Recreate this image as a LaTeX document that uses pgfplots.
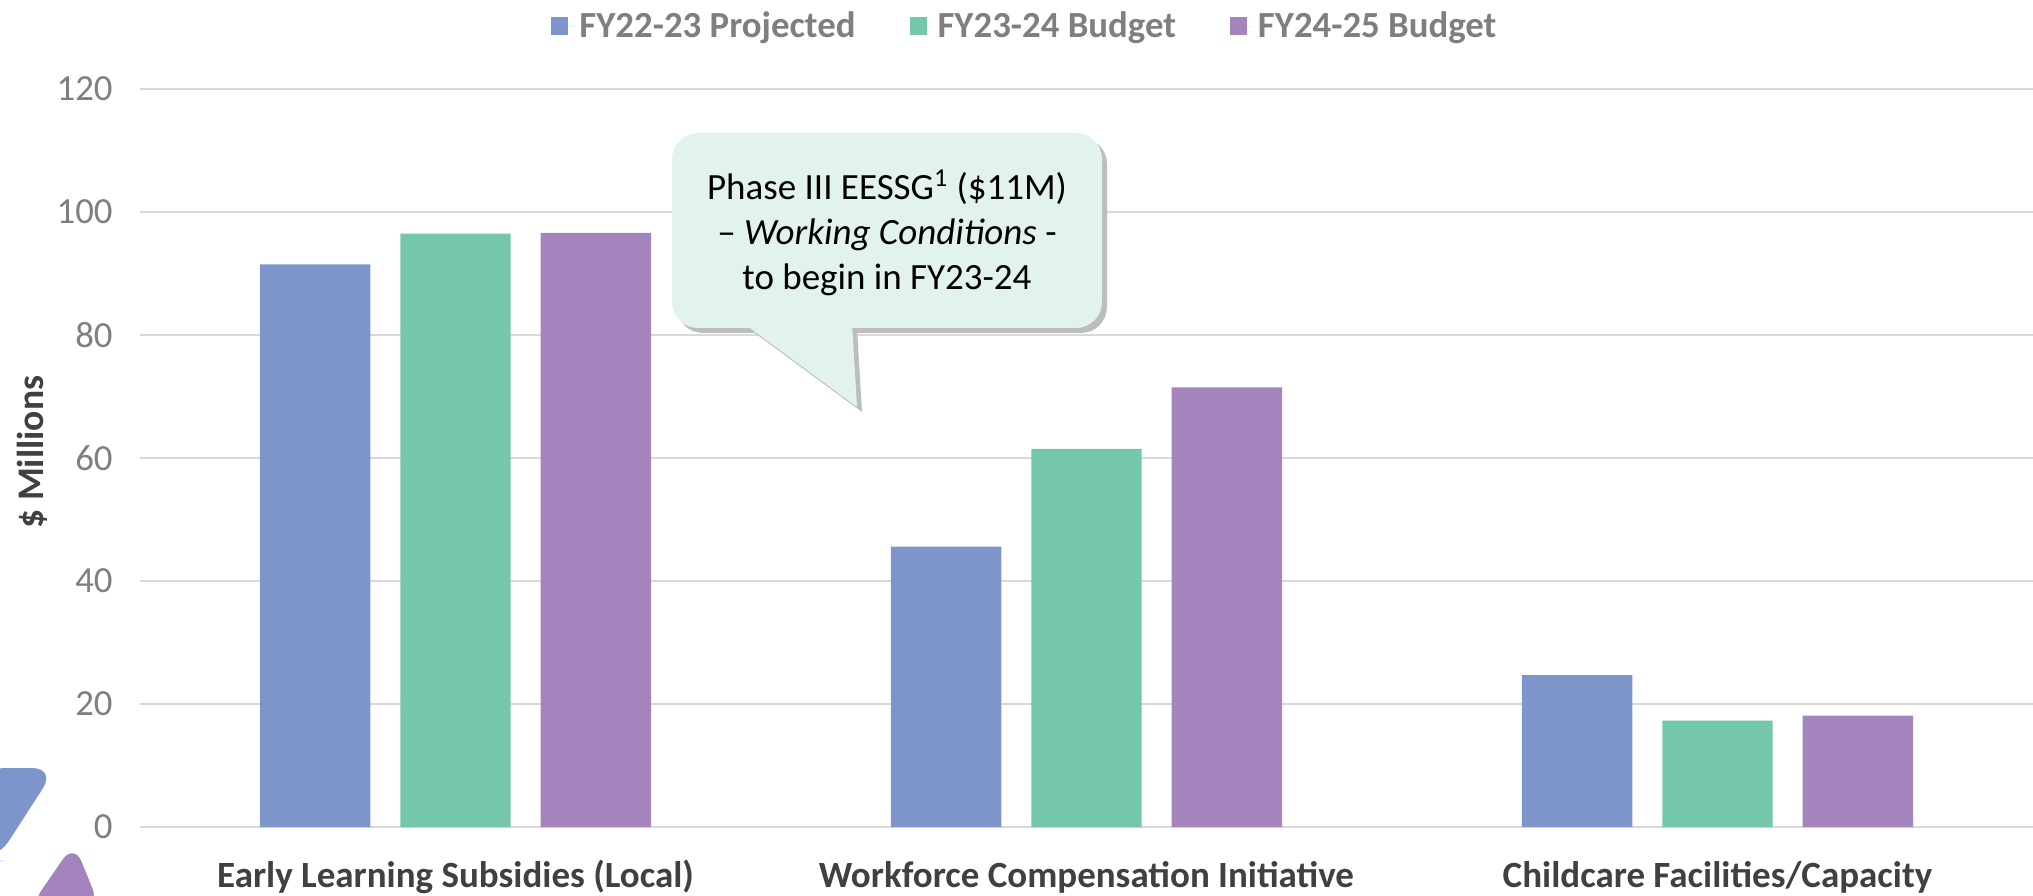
\documentclass[border=0pt]{standalone}
\usepackage{fontspec}
\setmainfont{Carlito}
\usepackage{pgfplots}
\pgfplotsset{compat=1.18}
\definecolor{cblue}{HTML}{7E95CB}
\definecolor{cgreen}{HTML}{75C7AB}
\definecolor{cpurple}{HTML}{A484BC}
\definecolor{gridgray}{HTML}{D9D9D9}
\definecolor{txtgray}{HTML}{7F7F7F}
\definecolor{darktxt}{HTML}{404040}
\definecolor{mint}{HTML}{E2F3EE}
\definecolor{shadowgray}{HTML}{BDBDBD}
\pgfplotsset{sqlegend/.style={legend image code/.code={\fill[##1] (0pt,-4.5pt) rectangle (8.5pt,4.5pt); \path (0pt,0pt) -- (12pt,0pt);}}}
\begin{document}
\begin{tikzpicture}
% decorative slide shapes
\fill[cblue, rounded corners=12pt] (-80pt,29.5pt) -- (-42pt,29.5pt) -- (-72pt,-17pt) -- (-80pt,-17pt) -- cycle;
\fill[cpurple, rounded corners=10pt] (-55pt,-40pt) -- (-33pt,-8pt) -- (-20pt,-40pt) -- cycle;
\begin{axis}[
  at={(0pt,0pt)}, anchor=south west,
  scale only axis, width=946.5pt, height=369pt,
  ybar=15pt, bar width=0.175,
  xmin=-0.5, xmax=2.5, ymin=0, ymax=120,
  xtick={0,1,2},
  xticklabels={Early Learning Subsidies (Local), Workforce Compensation Initiative, Childcare Facilities/Capacity},
  ytick={0,20,...,120},
  axis line style={draw=none},
  major tick length=0pt,
  ymajorgrids, grid style={gridgray, line width=0.8pt},
  /pgf/number format/assume math mode=true,
  yticklabel style={font=\fontsize{18.4}{20}\selectfont, text=txtgray, inner sep=0pt, anchor=east, xshift=-13.5pt},
  xticklabel style={font=\fontsize{18.5}{20}\selectfont\bfseries, text=darktxt, anchor=base, inner sep=0pt, yshift=-30pt},
  ylabel={\$ Millions},
  every axis y label/.style={at={(axis description cs:-0.0571,0.508)}, rotate=90, anchor=center,
    font=\fontsize{18.8}{20}\selectfont\bfseries, text=darktxt},
  legend columns=3,
  legend style={at={(axis description cs:0.468,1.085)}, anchor=center, draw=none, fill=none,
    font=\fontsize{18.4}{20}\selectfont\bfseries, text=txtgray,
    /tikz/every even column/.append style={column sep=25pt}},
  clip=false,
]
\addplot[fill=cblue, draw=none, sqlegend] coordinates {(0,91.5) (1,45.6) (2,24.7)};
\addplot[fill=cgreen, draw=none, sqlegend] coordinates {(0,96.5) (1,61.5) (2,17.3)};
\addplot[fill=cpurple, draw=none, sqlegend] coordinates {(0,96.6) (1,71.5) (2,18.1)};
\legend{FY22-23 Projected, FY23-24 Budget, FY24-25 Budget}
\end{axis}
% callout
\begin{scope}[shift={(2.5pt,-2.5pt)}]
\fill[shadowgray, rounded corners=13pt] (266pt,249.5pt) rectangle (481pt,347pt);
\fill[shadowgray] (301.5pt,252pt) -- (358.5pt,210pt) -- (356pt,252pt) -- cycle;
\end{scope}
\fill[mint, rounded corners=13pt] (266pt,249.5pt) rectangle (481pt,347pt);
\fill[mint] (301.5pt,252pt) -- (358.5pt,210pt) -- (356pt,252pt) -- cycle;
\node[align=center, font=\fontsize{18.5}{22.5}\selectfont, text=black] at (373.5pt,297pt)
  {Phase III EESSG\textsuperscript{1} (\$11M)\\ -- \textit{Working Conditions} -\\ to begin in FY23-24};
\pgfresetboundingbox
\path[use as bounding box] (-70pt,-34pt) rectangle (946.5pt,413.5pt);
\end{tikzpicture}
\end{document}
